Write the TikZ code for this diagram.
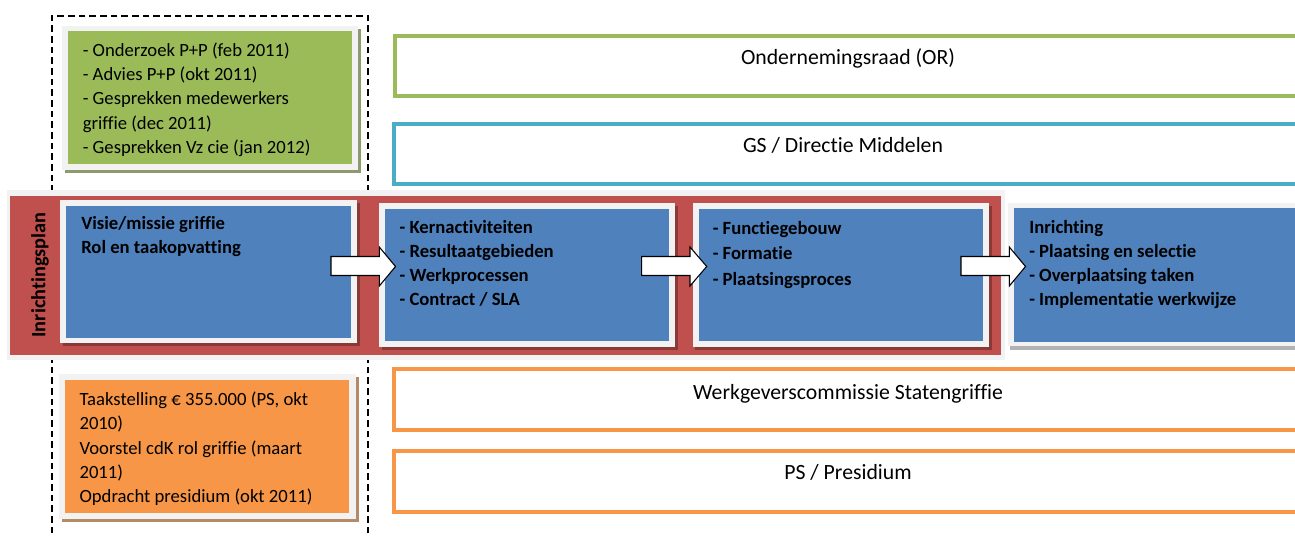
\documentclass[tikz,border=0pt]{standalone}
\usepackage{fontspec}
\setmainfont[Ligatures=NoCommon]{Carlito}
\usetikzlibrary{fit}
\definecolor{cgreen}{HTML}{9BBB59}
\definecolor{cblue}{HTML}{4F81BD}
\definecolor{cred}{HTML}{C0504D}
\definecolor{corange}{HTML}{F79646}
\definecolor{cteal}{HTML}{4BACC6}
\definecolor{cframe}{HTML}{F2F2F2}
\newcommand\txtlines[6]{%
  \foreach \t [count=\i from 0] in {#6}
    \node[#1] (#2-\i) at (#3,{#4+\i*#5}) {\t};}
\newcommand\blockarrow[5]{% name, x0, xbase, xtip, yc
  \draw[barrow] (#2,{#5-10}) -- (#3,{#5-10}) -- (#3,{#5-19.5}) -- (#4,#5)
    -- (#3,{#5+19.5}) -- (#3,{#5+9}) -- (#2,{#5+9}) -- cycle;
  \coordinate (#1) at (#4,#5);}
\begin{document}
\begin{tikzpicture}[x=0.75pt,y=-0.75pt,
  fitbox/.style={inner sep=0pt, outer sep=0pt},
  framebox/.style={fitbox, fill=cframe},
  shadowbox/.style={fitbox, fill=black, opacity=0.28},
  rbox/.style={fitbox, draw=#1, line width=3pt, fill=white},
  smalltxt/.style={font=\fontsize{14}{17}\selectfont, anchor=base west, inner sep=0pt},
  boldtxt/.style={font=\fontsize{14}{17}\bfseries\selectfont, anchor=base west, inner sep=0pt},
  bigtxt/.style={font=\fontsize{16.3}{20}\selectfont, anchor=base, inner sep=0pt},
  barrow/.style={draw=black, fill=white, line width=0.8pt, line join=miter},
  dashframe/.style={draw=black, line width=1.5pt, dash pattern=on 5pt off 3pt}]
\useasboundingbox (0,0) rectangle (1295,536);
\clip (0,0) rectangle (1295,536);

% dashed frame
\node[fitbox, dashframe, fit={(52,16)(368,580)}] (dash) {};

% right-hand boxes
\node[rbox=cgreen, fit={(395,35.5)(1320,96)}] (or) {};
\node[rbox=cteal, fit={(394,123.5)(1320,183.5)}] (gs) {};
\node[rbox=corange, fit={(394,369)(1320,430)}] (wc) {};
\node[rbox=corange, fit={(394,451)(1320,511.5)}] (ps) {};
\node[bigtxt] (ortxt) at (848,64) {Ondernemingsraad (OR)};
\node[bigtxt] (gstxt) at (843,152) {GS / Directie Middelen};
\node[bigtxt] (wctxt) at (848,399.5) {Werkgeverscommissie Statengriffie};
\node[bigtxt] (pstxt) at (848,479.5) {PS / Presidium};

% green box
\node[fitbox, fill=cgreen!45!gray, fit={(65,29)(361,173)}] (gsh) {};
\node[framebox, fit={(62,26)(358,170)}] (gfr) {};
\node[fitbox, fill=cgreen, fit={(68,31)(352,164)}] (gbox) {};
\txtlines{smalltxt}{gl}{82.5}{56}{24.4}{- Onderzoek P+P (feb 2011),- Advies P+P (okt 2011),- Gesprekken medewerkers,griffie (dec 2011),- Gesprekken Vz cie (jan 2012)}

% orange box
\node[fitbox, fill=corange!45!gray, fit={(62,377)(359,522)}] (osh) {};
\node[framebox, fit={(59,374)(356,519)}] (ofr) {};
\node[fitbox, fill=corange, fit={(65,380)(349,513)}] (obox) {};
\txtlines{smalltxt}{ol}{79.3}{405.3}{24.4}{{Taakstelling € 355.000 (PS, okt},2010),Voorstel cdK rol griffie (maart,2011),Opdracht presidium (okt 2011)}

% red band
\node[framebox, fit={(7,190)(1005,360)}] (rfr) {};
\node[fitbox, fill=cred, fit={(10,195.7)(1000.5,355)}] (band) {};
\node[font=\fontsize{15.2}{18}\bfseries\selectfont, rotate=90, inner sep=0pt] (plan) at (40,275) {Inrichtingsplan};

% blue boxes
\node[shadowbox, fit={(63,203)(360,346)}] (b1s) {};
\node[framebox, fit={(60,200)(357,343)}] (b1f) {};
\node[fitbox, fill=cblue, fit={(66,206)(351,338)}] (b1) {};

\node[shadowbox, fit={(382,206)(678,350)}] (b2s) {};
\node[framebox, fit={(379,203)(675,347)}] (b2f) {};
\node[fitbox, fill=cblue, fit={(384.5,208.5)(669,341)}] (b2) {};

\node[shadowbox, fit={(695,206)(992,350)}] (b3s) {};
\node[framebox, fit={(692.5,203)(989,347)}] (b3f) {};
\node[fitbox, fill=cblue, fit={(698.5,208.5)(983.3,341)}] (b3) {};

\node[fitbox, fill=black!30, fit={(1010,203.5)(1300,349.5)}] (b4s) {};
\node[framebox, fit={(1008.3,203.3)(1300,346)}] (b4f) {};
\node[fitbox, fill=cblue, fit={(1014,208.3)(1300,341.7)}] (b4) {};

% arrows
\blockarrow{a1}{331}{379.3}{395.5}{266.5}
\blockarrow{a2}{641.7}{690}{706.7}{266.5}
\blockarrow{a3}{961}{1009.3}{1025.5}{266.5}

% texts in blue boxes
\txtlines{boldtxt}{t1}{81}{229.5}{24.4}{Visie/missie griffie,Rol en taakopvatting}
\txtlines{boldtxt}{t2}{399.3}{233}{24.2}{- Kernactiviteiten,- Resultaatgebieden,- Werkprocessen,- Contract / SLA}
\txtlines{boldtxt}{t3}{712.5}{234.5}{25.3}{- Functiegebouw,- Formatie,- Plaatsingsproces}
\txtlines{boldtxt}{t4}{1029}{233}{24.2}{Inrichting,- Plaatsing en selectie,- Overplaatsing taken,- Implementatie werkwijze}
\end{tikzpicture}
\end{document}
